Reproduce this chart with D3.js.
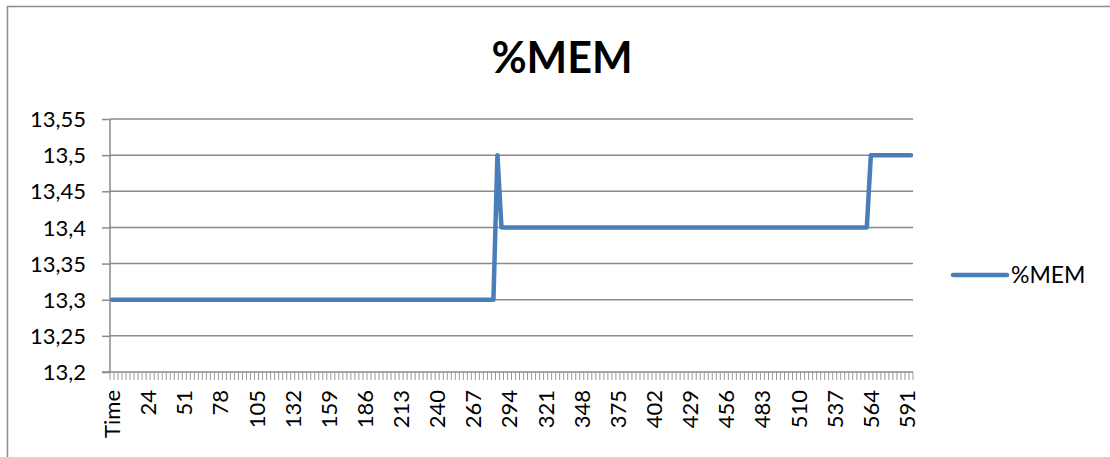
<!DOCTYPE html>
<html>
<head>
<meta charset="utf-8">
<script src="https://cdn.jsdelivr.net/npm/d3@7"></script>
<style>
  body { margin: 0; background: #fff; }
  svg text { font-family: Lato, "Open Sans", sans-serif; fill: #000; }
</style>
</head>
<body>
<svg id="chart" width="1110" height="457"></svg>
<script>
// data
var seriesName = "%MEM";
var categoryCount = 200;          // rows on the x axis, first one is "Time"
var labelEvery = 9;               // excel shows every 9th category label
var tickLabels = ["Time", "24", "51", "78", "105", "132", "159", "186", "213", "240", "267",
  "294", "321", "348", "375", "402", "429", "456", "483", "510", "537", "564", "591"];
// runs of equal values: [value, how many rows]
var valueRuns = [[13.3, 96], [13.5, 1], [13.4, 92], [13.5, 11]];
var yTicks = [13.2, 13.25, 13.3, 13.35, 13.4, 13.45, 13.5, 13.55];

var values = [];
valueRuns.forEach(function(run) {
  for (var i = 0; i < run[1]; i++) values.push(run[0]);
});

var svg = d3.select("#chart");
var plotLeft = 110, plotRight = 913, plotTop = 119, plotBottom = 372;
var lineColor = "#4a7ebb", gridColor = "#8a8a8a";

// outer frame (only top and left edges are inside the picture)
svg.append("rect").attr("x", 7.5).attr("y", 6.5).attr("width", 1200).attr("height", 600)
  .attr("fill", "none").attr("stroke", "#8c8c8c").attr("stroke-width", 1.5);

var x = d3.scaleBand().domain(d3.range(categoryCount)).range([plotLeft, plotRight]);
var y = d3.scaleLinear().domain([13.2, 13.55]).range([plotBottom, plotTop]);

// gridlines
svg.append("g").selectAll("line").data(yTicks.slice(1)).join("line")
  .attr("x1", plotLeft).attr("x2", plotRight)
  .attr("y1", function(d) { return y(d); }).attr("y2", function(d) { return y(d); })
  .attr("stroke", gridColor).attr("stroke-width", 1.5);

// y axis
var yAxis = svg.append("g").attr("transform", "translate(" + plotLeft + ",0)")
  .call(d3.axisLeft(y).tickValues(yTicks).tickSize(8).tickPadding(16)
    .tickFormat(function(d) { return String(+d.toFixed(2)).replace(".", ","); }));
yAxis.select(".domain").attr("stroke", gridColor).attr("stroke-width", 1.5).attr("d", "M0," + plotTop + "V" + plotBottom);
yAxis.selectAll(".tick line").attr("stroke", gridColor).attr("stroke-width", 1.5);
yAxis.selectAll("text").attr("font-size", 22).attr("font-family", "Lato, sans-serif").attr("dy", "0.35em");

// x axis: a tick on every row boundary, a label every 9 rows
var xAxisG = svg.append("g").attr("transform", "translate(0," + plotBottom + ")");
xAxisG.selectAll("line.tk").data(d3.range(0, categoryCount + 1)).join("line").attr("class", "tk")
  .attr("x1", function(i) { return plotLeft + i * x.step(); }).attr("x2", function(i) { return plotLeft + i * x.step(); })
  .attr("y1", 0).attr("y2", 8).attr("stroke", "#9a9a9a").attr("stroke-width", 1);
xAxisG.append("line").attr("x1", plotLeft - 8).attr("x2", plotRight).attr("y1", 0).attr("y2", 0)
  .attr("stroke", gridColor).attr("stroke-width", 1.5);
xAxisG.selectAll("text").data(tickLabels).join("text")
  .attr("transform", function(d, i) {
    return "translate(" + (x(i * labelEvery) + x.bandwidth() / 2 + 8) + ",18) rotate(-90)";
  })
  .attr("text-anchor", "end").attr("font-size", 22)
  .text(function(d) { return d; });

// series line
var line = d3.line()
  .x(function(d, i) { return x(i) + x.bandwidth() / 2; })
  .y(function(d) { return y(d); });
svg.append("path").datum(values).attr("d", line)
  .attr("fill", "none").attr("stroke", lineColor).attr("stroke-width", 4.5)
  .attr("stroke-linejoin", "round").attr("stroke-linecap", "round");

// title
svg.append("text").attr("x", 562).attr("y", 73).attr("text-anchor", "middle")
  .attr("font-size", 43).attr("font-weight", "bold").text(seriesName);

// legend
svg.append("line").attr("x1", 953).attr("x2", 1007).attr("y1", 275).attr("y2", 275)
  .attr("stroke", lineColor).attr("stroke-width", 4.5).attr("stroke-linecap", "round");
svg.append("text").attr("x", 1011).attr("y", 283).attr("font-size", 23).text(seriesName);
</script>
</body>
</html>
